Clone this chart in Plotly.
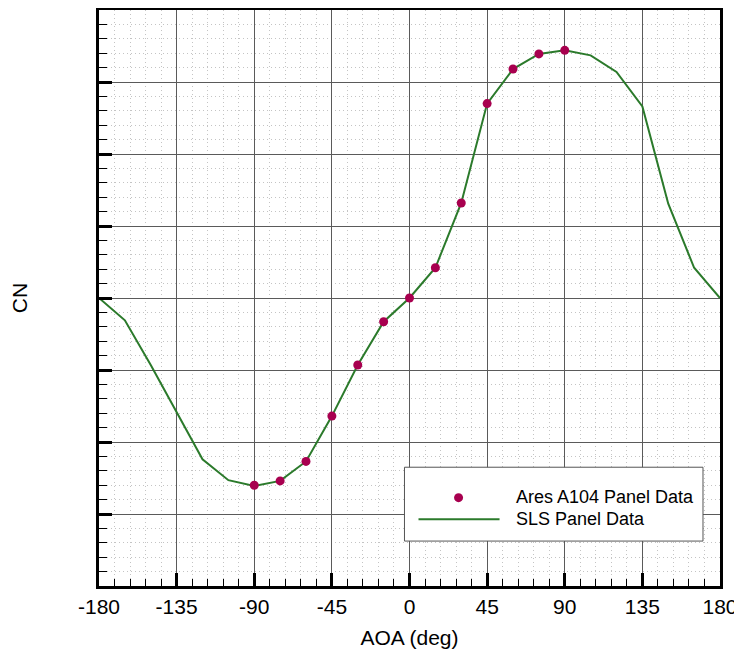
import plotly.graph_objects as go

# ---- data ----
ares_aoa = [-90, -75, -60, -45, -30, -15, 0, 15, 30, 45, 60, 75, 90]
ares_cn = [-2.60, -2.54, -2.27, -1.64, -0.93, -0.33, 0.0, 0.42, 1.32, 2.70, 3.18, 3.39, 3.44]

sls_aoa = [-180, -165, -150, -135, -120, -105, -90, -75, -60, -45, -30, -15, 0,
           15, 30, 45, 60, 75, 90, 105, 120, 135, 150, 165, 180]
sls_cn = [0.0, -0.31, -0.93, -1.59, -2.24, -2.53, -2.61, -2.54, -2.27, -1.64, -0.93, -0.33, 0.0,
          0.42, 1.32, 2.70, 3.18, 3.39, 3.44, 3.37, 3.14, 2.66, 1.31, 0.42, 0.0]

x_ticks = [-180, -135, -90, -45, 0, 45, 90, 135, 180]
x_tick_labels = ["-180", "-135", "-90", "-45", "0", "45", "90", "135", "180"]

legend_names = ["Ares A104 Panel Data", "SLS Panel Data"]

GREEN = "#2b7a2b"
MAROON = "#a8004f"
FONT = "Liberation Sans, Arial, Helvetica, sans-serif"

fig = go.Figure()
fig.add_trace(go.Scatter(x=sls_aoa, y=sls_cn, mode="lines", name=legend_names[1],
                         line=dict(color=GREEN, width=2), showlegend=False))
fig.add_trace(go.Scatter(x=ares_aoa, y=ares_cn, mode="markers", name=legend_names[0],
                         marker=dict(color=MAROON, size=9), showlegend=False))

axis_common = dict(
    showline=True, linecolor="black", linewidth=3, mirror=True,
    ticks="inside", tickcolor="black", tickwidth=2.5, ticklen=13,
    showgrid=True, gridcolor="#5a5a5a", gridwidth=1,
    zeroline=False,
    tickfont=dict(family=FONT, size=21, color="black"),
)

MINOR_GRID = dict(showgrid=True, gridcolor="#c4c4c4", griddash="1px,3px", gridwidth=1)

fig.update_xaxes(
    range=[-180, 180], tickmode="array", tickvals=x_ticks, ticktext=x_tick_labels,
    minor=dict(dtick=9, tick0=0, ticks="inside", ticklen=7, tickwidth=1, tickcolor="black",
               **MINOR_GRID),
    title=dict(text="AOA (deg)", font=dict(family=FONT, size=21, color="black"), standoff=14),
    automargin=False,
    **axis_common,
)
fig.update_yaxes(
    range=[-4, 4], tickmode="linear", tick0=0, dtick=1, showticklabels=False,
    minor=dict(dtick=0.2, tick0=0, ticks="inside", ticklen=8, tickwidth=1, tickcolor="black",
               **MINOR_GRID),
    title=dict(text="CN", font=dict(family=FONT, size=21, color="black"), standoff=63),
    automargin=False,
    **axis_common,
)

# ---- legend box drawn in paper coordinates ----
fig.add_shape(type="rect", xref="paper", yref="paper", x0=0.4919, x1=0.9726, y0=0.078, y1=0.2062,
              fillcolor="white", line=dict(color="#555555", width=1), layer="above")
fig.add_shape(type="line", xref="paper", yref="paper", x0=0.5145, x1=0.645, y0=0.1161, y1=0.1161,
              line=dict(color=GREEN, width=2), layer="above")
fig.add_shape(type="circle", xref="paper", yref="paper", xsizemode="pixel", ysizemode="pixel",
              xanchor=0.579, yanchor=0.1534, x0=-4.5, x1=4.5, y0=-4.5, y1=4.5,
              fillcolor=MAROON, line=dict(color=MAROON, width=0), layer="above")
for name, yy in zip(legend_names, [0.1552, 0.1161]):
    fig.add_annotation(xref="paper", yref="paper", x=0.6677, y=yy, text=name, showarrow=False,
                       xanchor="left", yanchor="middle",
                       font=dict(family=FONT, size=18, color="black"))

fig.update_layout(
    width=742, height=658,
    margin=dict(l=91, r=30, t=2, b=80),
    paper_bgcolor="white", plot_bgcolor="white",
    font=dict(family=FONT, color="black"),
)

fig.write_html("out.html")
